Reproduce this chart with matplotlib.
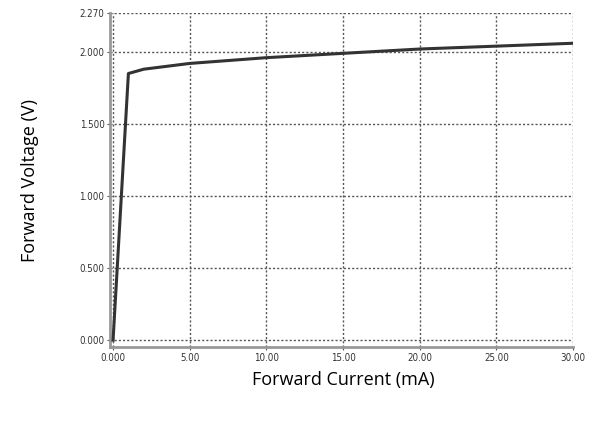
import numpy as np
import matplotlib.pyplot as plt

current = [0.0, 1.0, 2.0, 5.0, 10.0, 15.0, 20.0, 25.0, 30.0]
voltage = [0.0, 1.85, 1.88, 1.92, 1.96, 1.99, 2.02, 2.04, 2.06]

xticks = [0, 5, 10, 15, 20, 25, 30]
xticklabels = ['0.000', '5.00', '10.00', '15.00', '20.00', '25.00', '30.00']
yticks = [0.0, 0.5, 1.0, 1.5, 2.0, 2.27]
yticklabels = ['0.000', '0.500', '1.000', '1.500', '2.000', '2.270']

fig = plt.figure(figsize=(6.03, 4.23), dpi=100)
ax = fig.add_axes([110/603, 1 - 347/423, (573 - 110)/603, (347 - 13)/423])

ax.plot(current, voltage, color='#333333', linewidth=2.2, zorder=3)

ax.set_xlim(-0.2, 30)
ax.set_ylim(-0.048, 2.27)

ax.set_xticks(xticks)
ax.set_xticklabels(xticklabels)
ax.set_yticks(yticks)
ax.set_yticklabels(yticklabels)
ax.tick_params(labelsize=7, length=2, color='#555555', labelcolor='#333333', pad=2)
for lab in ax.get_xticklabels() + ax.get_yticklabels():
	lab.set_fontstretch('condensed')
	lab.set_family('Liberation Sans Narrow')

for x in xticks:
	ax.axvline(x, color='#555555', linestyle=(0, (1.5, 1.5)), linewidth=1.0, zorder=1)
for y in yticks:
	ax.axhline(y, color='#555555', linestyle=(0, (1.5, 1.5)), linewidth=1.0, zorder=1)

for side in ['top', 'right']:
	ax.spines[side].set_visible(False)
ax.spines['left'].set_color('#999999')
ax.spines['left'].set_linewidth(2)
ax.spines['bottom'].set_color('#999999')
ax.spines['bottom'].set_linewidth(2)

fig.text(30/603, 1 - 180/423, 'Forward Voltage (V)', rotation=90, ha='center', va='center',
	fontsize=13, family='Open Sans')
fig.text(343/603, 1 - 380/423, 'Forward Current (mA)', ha='center', va='center',
	fontsize=13, family='Open Sans')

fig.savefig('out.png', dpi=100)
